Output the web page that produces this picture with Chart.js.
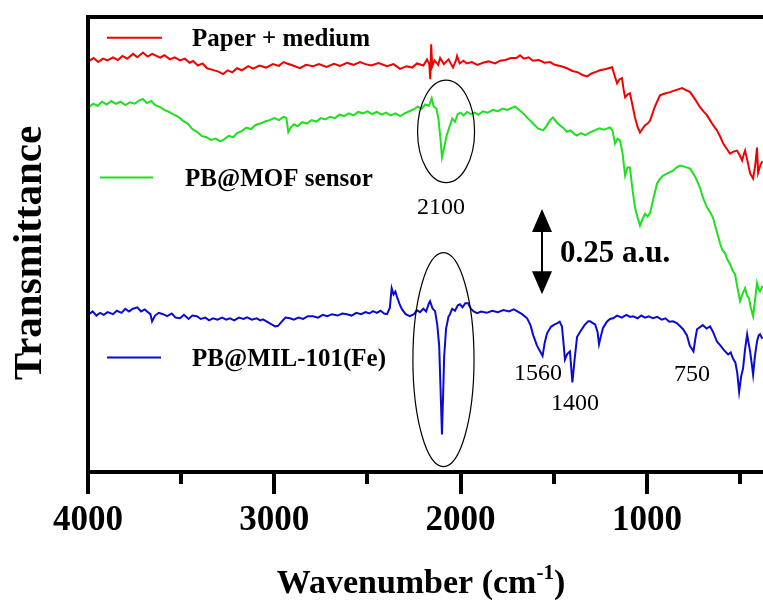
<!DOCTYPE html>
<html>
<head>
<meta charset="utf-8">
<script src="https://cdn.jsdelivr.net/npm/chart.js@4.4.1/dist/chart.umd.min.js"></script>
<style>
  html, body { margin: 0; padding: 0; background: #fff; overflow: hidden; }
  #wrap { width: 770px; height: 606px; }
</style>
</head>
<body>
<div id="wrap"><canvas id="ftirChart" width="770" height="606"></canvas></div>
<script>
// FTIR spectra, wavenumber (cm-1) and transmittance (a.u., stacked)
const paperWn = [3995,3970,3945,3920,3895,3866,3840,3815,3790,3758,3735,3705,3680,3655,3613,3590,3560,3535,3506,3480,3455,3436,3410,3385,3361,3335,3300,3275,3250,3225,3200,3175,3140,3114,3080,3045,3007,2975,2950,2932,2900,2862,2830,2792,2760,2720,2680,2647,2610,2575,2540,2510,2480,2440,2395,2360,2325,2290,2260,2234,2200,2180,2168,2163,2158,2152,2140,2120,2110,2090,2065,2041,2025,2019,2005,1985,1966,1940,1910,1880,1850,1815,1788,1760,1730,1700,1681,1660,1635,1611,1580,1550,1520,1495,1460,1429,1400,1370,1345,1321,1300,1270,1252,1220,1187,1173,1160,1147,1134,1125,1117,1104,1091,1078,1064,1050,1037,1024,1010,996,983,957,930,903,876,845,811,790,768,740,715,695,677,650,624,605,591,570,554,535,516,500,489,480,473,460,446,430,418,409,403,390,380];
const paperT = [1.203,1.212,1.200,1.210,1.205,1.214,1.206,1.218,1.210,1.224,1.214,1.228,1.216,1.224,1.213,1.220,1.208,1.214,1.205,1.210,1.198,1.203,1.190,1.196,1.182,1.178,1.172,1.165,1.176,1.170,1.182,1.176,1.188,1.181,1.190,1.184,1.194,1.189,1.200,1.196,1.190,1.182,1.192,1.188,1.194,1.186,1.195,1.189,1.198,1.192,1.200,1.194,1.190,1.197,1.188,1.194,1.180,1.188,1.184,1.196,1.190,1.208,1.194,1.150,1.252,1.188,1.205,1.192,1.212,1.194,1.208,1.184,1.205,1.218,1.196,1.204,1.196,1.200,1.192,1.198,1.202,1.196,1.204,1.206,1.212,1.212,1.220,1.210,1.214,1.204,1.206,1.198,1.200,1.192,1.188,1.182,1.174,1.170,1.162,1.158,1.166,1.172,1.176,1.180,1.185,1.160,1.138,1.150,1.153,1.120,1.097,1.105,1.109,1.075,1.038,1.010,0.994,1.004,1.015,1.020,1.029,1.070,1.103,1.108,1.112,1.118,1.124,1.118,1.112,1.090,1.068,1.055,1.044,1.020,1.000,0.980,0.962,0.945,0.932,0.938,0.941,0.925,0.912,0.930,0.941,0.910,0.874,0.859,0.900,0.950,0.876,0.900,0.910];

const sensorWn = [3995,3972,3948,3925,3900,3875,3850,3825,3800,3775,3750,3725,3705,3685,3660,3640,3613,3590,3565,3540,3515,3490,3465,3440,3415,3390,3365,3340,3315,3290,3270,3245,3220,3200,3175,3150,3125,3100,3075,3050,3025,3000,2975,2950,2935,2925,2912,2895,2875,2850,2825,2800,2775,2750,2725,2700,2675,2650,2625,2600,2575,2550,2525,2500,2475,2450,2425,2400,2375,2350,2325,2300,2275,2250,2230,2210,2190,2170,2155,2145,2130,2118,2108,2100,2088,2075,2060,2045,2030,2015,2000,1985,1965,1945,1925,1905,1880,1855,1826,1800,1775,1750,1725,1708,1690,1665,1640,1611,1585,1557,1540,1520,1504,1485,1465,1450,1430,1410,1390,1375,1355,1330,1305,1280,1255,1230,1198,1185,1171,1158,1144,1130,1117,1104,1091,1078,1064,1050,1037,1024,1010,996,983,965,946,930,913,890,860,840,822,800,768,740,715,697,677,660,645,626,607,595,581,568,554,540,527,514,500,486,473,462,452,442,430,420,409,400,393,380];
const sensorT = [1.068,1.078,1.072,1.084,1.076,1.086,1.078,1.084,1.074,1.082,1.078,1.088,1.092,1.080,1.086,1.074,1.068,1.060,1.054,1.046,1.040,1.028,1.020,1.004,0.996,0.984,0.980,0.972,0.976,0.968,0.974,0.984,0.980,0.992,0.998,1.008,1.004,1.016,1.020,1.026,1.030,1.036,1.030,1.040,1.036,0.995,1.008,1.018,1.012,1.024,1.020,1.030,1.026,1.036,1.032,1.040,1.036,1.046,1.042,1.050,1.044,1.054,1.050,1.056,1.048,1.054,1.046,1.052,1.044,1.050,1.042,1.050,1.056,1.062,1.070,1.062,1.076,1.072,1.094,1.070,1.064,1.030,0.975,0.921,0.950,0.985,1.010,1.035,1.025,1.048,1.052,1.044,1.054,1.048,1.052,1.046,1.056,1.052,1.060,1.056,1.064,1.060,1.066,1.070,1.062,1.050,1.036,1.020,1.006,1.000,1.012,1.030,1.038,1.024,1.014,1.008,0.996,1.000,0.990,0.985,0.992,0.986,0.994,1.000,1.006,1.002,1.009,1.000,0.962,0.976,0.971,0.930,0.868,0.892,0.891,0.830,0.774,0.745,0.721,0.740,0.756,0.748,0.759,0.800,0.844,0.858,0.868,0.874,0.882,0.892,0.897,0.894,0.888,0.864,0.832,0.800,0.774,0.760,0.744,0.706,0.668,0.650,0.641,0.622,0.609,0.590,0.579,0.540,0.500,0.522,0.538,0.516,0.509,0.480,0.456,0.500,0.553,0.535,0.529,0.545];

const milWn = [3995,3975,3955,3935,3915,3895,3866,3845,3820,3800,3780,3758,3735,3715,3695,3683,3665,3656,3640,3620,3597,3575,3550,3530,3506,3485,3460,3440,3415,3395,3370,3350,3329,3305,3280,3258,3238,3215,3190,3165,3146,3120,3095,3075,3061,3040,3015,2995,2980,2960,2940,2916,2895,2870,2845,2820,2792,2765,2740,2715,2690,2660,2635,2610,2585,2560,2535,2510,2490,2470,2450,2430,2410,2395,2380,2370,2360,2350,2341,2325,2314,2295,2272,2250,2235,2218,2200,2185,2170,2164,2150,2137,2125,2115,2100,2088,2078,2065,2057,2045,2030,2015,2003,1990,1975,1960,1945,1930,1912,1890,1860,1830,1800,1770,1740,1715,1697,1670,1643,1625,1610,1590,1575,1560,1548,1536,1515,1495,1482,1468,1456,1448,1440,1428,1413,1400,1388,1375,1359,1335,1315,1305,1290,1278,1265,1257,1246,1236,1215,1198,1182,1160,1135,1110,1090,1074,1050,1030,1010,990,967,945,920,900,880,860,840,820,806,785,770,750,740,731,715,700,680,661,645,624,605,585,564,550,538,525,515,505,494,484,473,462,455,446,438,430,420,409,400,393,380];
const milT = [0.462,0.470,0.458,0.466,0.460,0.468,0.462,0.472,0.466,0.478,0.470,0.478,0.482,0.470,0.476,0.470,0.462,0.441,0.458,0.466,0.462,0.456,0.464,0.452,0.450,0.460,0.448,0.458,0.456,0.448,0.452,0.444,0.450,0.446,0.452,0.446,0.450,0.444,0.452,0.448,0.453,0.446,0.450,0.444,0.447,0.440,0.432,0.426,0.428,0.440,0.452,0.450,0.446,0.452,0.448,0.456,0.456,0.452,0.460,0.456,0.462,0.458,0.464,0.462,0.458,0.466,0.462,0.468,0.464,0.471,0.466,0.472,0.464,0.462,0.480,0.538,0.520,0.528,0.512,0.488,0.476,0.462,0.456,0.462,0.474,0.468,0.478,0.470,0.494,0.500,0.478,0.471,0.430,0.370,0.110,0.340,0.420,0.455,0.462,0.478,0.472,0.488,0.491,0.482,0.494,0.494,0.478,0.470,0.465,0.470,0.466,0.472,0.468,0.474,0.470,0.476,0.471,0.462,0.450,0.430,0.400,0.370,0.355,0.340,0.380,0.406,0.425,0.432,0.435,0.440,0.426,0.380,0.329,0.345,0.353,0.262,0.330,0.395,0.410,0.430,0.441,0.441,0.436,0.432,0.410,0.374,0.400,0.421,0.440,0.448,0.450,0.458,0.452,0.460,0.454,0.456,0.450,0.458,0.452,0.456,0.450,0.454,0.446,0.450,0.440,0.441,0.436,0.426,0.418,0.400,0.370,0.353,0.390,0.418,0.424,0.430,0.420,0.426,0.410,0.382,0.370,0.356,0.344,0.350,0.332,0.320,0.290,0.235,0.280,0.303,0.360,0.403,0.380,0.353,0.320,0.285,0.340,0.382,0.400,0.403,0.390];

const seriesNames = ['Paper + medium', 'PB@MOF sensor', 'PB@MIL-101(Fe)'];
const seriesColors = ['#f20000', '#1ee01e', '#0b0bd0'];
const xTicks = [4000, 3000, 2000, 1000];
const peakLabels = ['2100', '1560', '1400', '750'];
const scaleBarText = '0.25 a.u.';
const scaleBarSize = 0.25;

const SERIF = "'Liberation Serif', 'Times New Roman', serif";

function toPoints(wn, t) {
  return wn.map((w, i) => ({x: w, y: t[i]}));
}

// frame (left, top, bottom) + bottom tick marks every 500 cm-1
const framePlugin = {
  id: 'frame',
  afterDraw(chart) {
    const {ctx, chartArea: a, scales: {x}} = chart;
    ctx.save();
    ctx.strokeStyle = '#000';
    ctx.lineWidth = 4;
    ctx.lineCap = 'square';
    ctx.beginPath();
    ctx.moveTo(a.right + 4, a.top);
    ctx.lineTo(a.left, a.top);
    ctx.lineTo(a.left, a.bottom);
    ctx.lineTo(a.right + 4, a.bottom);
    ctx.stroke();
    ctx.lineCap = 'butt';
    for (let w = 4000; w >= 400; w -= 500) {
      const px = Math.round(x.getPixelForValue(w));
      const len = w % 1000 === 0 ? 22 : 12;
      ctx.beginPath();
      ctx.moveTo(px, a.bottom);
      ctx.lineTo(px, a.bottom + len);
      ctx.stroke();
    }
    ctx.restore();
  }
};

// in-plot legend, ellipses, peak labels, scale bar and axis titles
const notesPlugin = {
  id: 'notes',
  afterDatasetsDraw(chart) {
    const {ctx, chartArea: a, scales: {x, y}} = chart;
    const px = v => x.getPixelForValue(v);
    const py = v => y.getPixelForValue(v);
    ctx.save();

    // legend entries
    const legendPos = [[3898, 3603, 1.271, 3442], [3936, 3651, 0.862, 3479], [3898, 3608, 0.335, 3442]];
    ctx.font = 'bold 25px ' + SERIF;
    ctx.textBaseline = 'middle';
    ctx.textAlign = 'left';
    legendPos.forEach((p, i) => {
      ctx.strokeStyle = seriesColors[i];
      ctx.lineWidth = 2;
      ctx.beginPath();
      ctx.moveTo(px(p[0]), py(p[2]));
      ctx.lineTo(px(p[1]), py(p[2]));
      ctx.stroke();
      ctx.fillStyle = '#000';
      ctx.fillText(seriesNames[i], px(p[3]), py(p[2]) + 2);
    });

    // ellipses round the 2100 cm-1 bands
    ctx.strokeStyle = '#000';
    ctx.lineWidth = 1.2;
    [[2078, 0.997, 153, 0.15], [2092, 0.329, 164, 0.313]].forEach(e => {
      const cx = px(e[0]), cy = py(e[1]);
      const rx = Math.abs(px(e[0] + e[2]) - cx);
      const ry = Math.abs(py(e[1] + e[3]) - cy);
      ctx.beginPath();
      ctx.ellipse(cx, cy, rx, ry, 0, 0, Math.PI * 2);
      ctx.stroke();
    });

    // peak labels
    ctx.font = '24px ' + SERIF;
    ctx.textAlign = 'center';
    const labelPos = [[2105, 0.774], [1584, 0.288], [1386, 0.2], [758, 0.285]];
    peakLabels.forEach((t, i) => {
      ctx.fillText(t, px(labelPos[i][0]), py(labelPos[i][1]));
    });

    // scale bar: double arrow of 0.25 a.u.
    const ax = px(1563), yLo = py(0.52), yHi = py(0.52 + scaleBarSize);
    ctx.lineWidth = 2;
    ctx.beginPath();
    ctx.moveTo(ax, yLo - 18);
    ctx.lineTo(ax, yHi + 18);
    ctx.stroke();
    ctx.beginPath();
    ctx.moveTo(ax, yHi);
    ctx.lineTo(ax - 10, yHi + 23);
    ctx.lineTo(ax + 10, yHi + 23);
    ctx.closePath();
    ctx.moveTo(ax, yLo);
    ctx.lineTo(ax - 10, yLo - 23);
    ctx.lineTo(ax + 10, yLo - 23);
    ctx.closePath();
    ctx.fill();
    ctx.font = 'bold 31px ' + SERIF;
    ctx.textAlign = 'left';
    ctx.fillText(scaleBarText, px(1466), (yLo + yHi) / 2 + 2);

    ctx.restore();
  },
  afterDraw(chart) {
    const {ctx, chartArea: a} = chart;
    ctx.save();
    ctx.fillStyle = '#000';
    // y title
    ctx.font = 'bold 41px ' + SERIF;
    ctx.textAlign = 'center';
    ctx.textBaseline = 'middle';
    ctx.translate(30, 253);
    ctx.rotate(-Math.PI / 2);
    ctx.fillText('Transmittance', 0, 0);
    ctx.restore();

    // x title with superscript
    ctx.save();
    ctx.fillStyle = '#000';
    ctx.textBaseline = 'alphabetic';
    ctx.textAlign = 'left';
    const main = 'bold 34px ' + SERIF, sup = 'bold 21px ' + SERIF;
    ctx.font = main;
    const w1 = ctx.measureText('Wavenumber (cm').width;
    const w3 = ctx.measureText(')').width;
    ctx.font = sup;
    const w2 = ctx.measureText('-1').width;
    let tx = 421 - (w1 + w2 + w3) / 2;
    const base = 593;
    ctx.font = main;
    ctx.fillText('Wavenumber (cm', tx, base);
    tx += w1;
    ctx.font = sup;
    ctx.fillText('-1', tx, base - 14);
    tx += w2;
    ctx.font = main;
    ctx.fillText(')', tx, base);
    ctx.restore();
  }
};

const datasets = [
  {label: seriesNames[0], data: toPoints(paperWn, paperT), borderColor: seriesColors[0]},
  {label: seriesNames[1], data: toPoints(sensorWn, sensorT), borderColor: seriesColors[1]},
  {label: seriesNames[2], data: toPoints(milWn, milT), borderColor: seriesColors[2]}
].map(d => Object.assign(d, {borderWidth: 2, pointRadius: 0, tension: 0, fill: false}));

new Chart(document.getElementById('ftirChart').getContext('2d'), {
  type: 'line',
  data: {datasets: datasets},
  options: {
    responsive: false,
    animation: false,
    layout: {padding: {left: 88, top: 17, right: 2, bottom: 36}},
    plugins: {legend: {display: false}, tooltip: {enabled: false}},
    scales: {
      x: {
        type: 'linear',
        reverse: true,
        min: 350,
        max: 4000,
        grid: {display: false, drawTicks: false},
        border: {display: false},
        afterBuildTicks: axis => { axis.ticks = xTicks.map(v => ({value: v})); },
        ticks: {
          autoSkip: false,
          maxRotation: 0,
          padding: 28,
          color: '#000',
          font: {family: SERIF, size: 35, weight: 'bold'},
          callback: v => String(v)
        }
      },
      y: {
        display: false,
        min: 0,
        max: 1.332
      }
    }
  },
  plugins: [framePlugin, notesPlugin]
});
</script>
</body>
</html>
